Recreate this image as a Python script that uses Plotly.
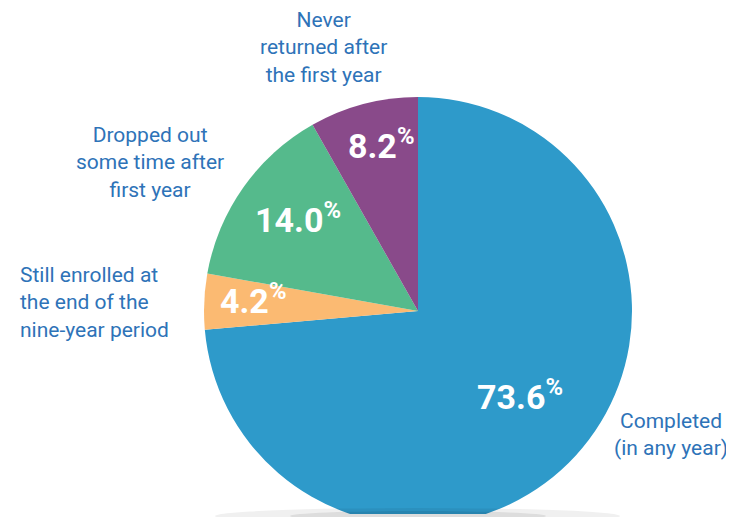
import math
import plotly.graph_objects as go

# ---- data ----
categories = ["Completed<br>(in any year)",
              "Still enrolled at<br>the end of the<br>nine-year period",
              "Dropped out<br>some time after<br>first year",
              "Never<br>returned after<br>the first year"]
values = [73.6, 4.2, 14.0, 8.2]
colors = ["#2E9ACA", "#FBBA72", "#55BA8C", "#894A8A"]

W, H = 734, 517
OFF = 8          # page body margin; work in page pixel coordinates
CX, CY, R = 418, 311, 214   # page pixels


def px2x(px):
    return (px - OFF) / W


def py2y(py):
    return 1 - (py - OFF) / H


FONT = "Roboto, Lato, sans-serif"
TXT = "#2E73B8"

cy_fig = CY - OFF
fig = go.Figure(go.Pie(
    values=values, labels=categories, sort=False, direction="clockwise",
    rotation=0, marker=dict(colors=colors, line=dict(width=0)),
    textinfo="none", hoverinfo="label+percent", showlegend=False,
    domain=dict(x=[px2x(CX - R), px2x(CX + R)],
                y=[(H - cy_fig - R) / H, (H - cy_fig + R) / H]),
))

# inside value labels positioned at each slice's mid-angle
label_r = [0.61, 0.80, 0.72, 0.79]
cum = 0.0
total = sum(values)
anns = []
for v, fr in zip(values, label_r):
    mid = (cum + v / 2) / total * 2 * math.pi
    cum += v
    px = CX + fr * R * math.sin(mid) + 6
    py = CY - fr * R * math.cos(mid) - 4
    anns.append(dict(x=px2x(px), y=py2y(py), xref="paper", yref="paper",
                     xanchor="center", yanchor="middle",
                     text=f"<b>{v:.1f}<sup>%</sup></b>", showarrow=False,
                     font=dict(family=FONT, size=34, color="white")))

# outside category labels (page pixel centres)
out_pos = [(671, 434, "center"), (18, 302, "left"), (150, 162, "center"), (323, 47, "center")]
for cat, (px, py, al) in zip(categories, out_pos):
    anns.append(dict(x=px2x(px), y=py2y(py), xref="paper", yref="paper",
                     text=cat, showarrow=False, align=al,
                     xanchor="left" if al == "left" else "center", yanchor="middle",
                     font=dict(family=FONT, size=21, color=TXT)))

shapes = [
    dict(type="rect", xref="paper", yref="paper", layer="above",
         x0=px2x(300), x1=px2x(540), y0=0, y1=py2y(514),
         fillcolor="white", line=dict(width=0)),
    dict(type="circle", xref="paper", yref="paper", layer="above",
         x0=px2x(215), x1=px2x(620), y0=py2y(524), y1=py2y(508),
         fillcolor="rgba(0,0,0,0.06)", line=dict(width=0)),
    dict(type="circle", xref="paper", yref="paper", layer="above",
         x0=px2x(290), x1=px2x(546), y0=py2y(521), y1=py2y(511),
         fillcolor="rgba(0,0,0,0.08)", line=dict(width=0)),
]

fig.update_layout(width=W, height=H, margin=dict(l=0, r=0, t=0, b=0),
                  paper_bgcolor="white", plot_bgcolor="white",
                  annotations=anns, shapes=shapes)
fig.write_html("out.html")
